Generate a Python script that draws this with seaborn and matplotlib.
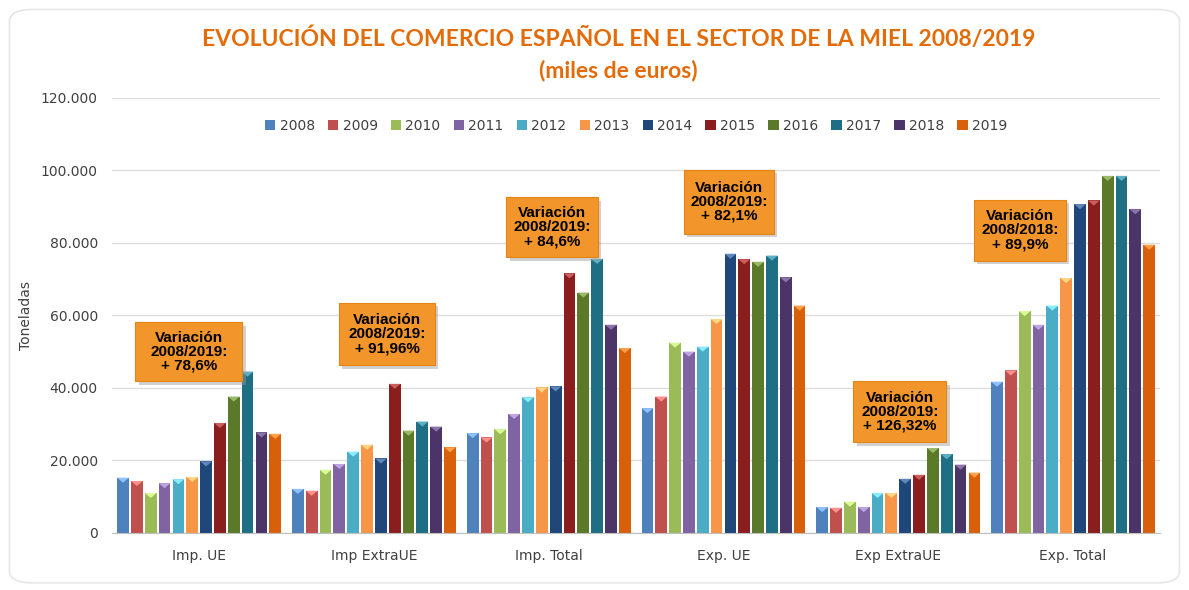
import numpy as np
import pandas as pd
import matplotlib
matplotlib.use('Agg')
import matplotlib.pyplot as plt
from matplotlib.patches import FancyBboxPatch, Polygon, Rectangle
from matplotlib.ticker import FuncFormatter
import seaborn as sns

# Data (miles de euros)
categories = ['Imp. UE', 'Imp ExtraUE', 'Imp. Total', 'Exp. UE', 'Exp ExtraUE', 'Exp. Total']
years = ['2008', '2009', '2010', '2011', '2012', '2013',
         '2014', '2015', '2016', '2017', '2018', '2019']

imp_ue = [15200, 14300, 11000, 13700, 14800, 15400, 19700, 30300, 37600, 44500, 27700, 27300]
imp_extraue = [12100, 11600, 17400, 19000, 22400, 24300, 20500, 41100, 28200, 30700, 29300, 23600]
imp_total = [27500, 26300, 28600, 32800, 37400, 40100, 40400, 71600, 66300, 75600, 57400, 51000]
exp_ue = [34400, 37600, 52500, 50000, 51400, 59000, 77000, 75500, 74800, 76500, 70500, 62700]
exp_extraue = [7100, 6900, 8600, 7100, 11000, 11000, 14900, 16000, 23400, 21700, 18800, 16600]
exp_total = [41700, 44800, 61200, 57400, 62700, 70300, 90700, 91700, 98500, 98500, 89300, 79500]

annot_texts = ['Variación\n2008/2019:\n+ 78,6%',
               'Variación\n2008/2019:\n+ 91,96%',
               'Variación\n2008/2019:\n+ 84,6%',
               'Variación\n2008/2019:\n+ 82,1%',
               'Variación\n2008/2019:\n+ 126,32%',
               'Variación\n2008/2018:\n+ 89,9%']

year_colors = ['#4F81BD', '#C0504D', '#9BBB59', '#8064A2', '#4BACC6', '#F79646',
               '#1F477A', '#8A1E1E', '#5A7A2A', '#1E6E84', '#4A3468', '#D9600A']

series = [imp_ue, imp_extraue, imp_total, exp_ue, exp_extraue, exp_total]
rows = []
for cat, vals in zip(categories, series):
    for yr, v in zip(years, vals):
        rows.append({'Categoria': cat, 'Año': yr, 'Valor': v})
df = pd.DataFrame(rows)

sns.set_style('white')
plt.rcParams['font.family'] = ['DejaVu Sans']

fig = plt.figure(figsize=(11.89, 5.90), dpi=100)
ax = fig.add_axes([0.094, 0.097, 0.882, 0.737])

sns.barplot(data=df, x='Categoria', y='Valor', hue='Año', hue_order=years,
            palette=year_colors, width=0.95, gap=0.15, ax=ax, legend=True,
            saturation=1, edgecolor='none')

# bevel-like triangle cap on top of every bar
for p in ax.patches:
    h = p.get_height()
    if h <= 0 or p.get_width() <= 0:
        continue
    x0, w = p.get_x(), p.get_width()
    fc = p.get_facecolor()
    light = tuple(min(1, c + 0.25) for c in fc[:3])
    tri = Polygon([(x0, h), (x0 + w, h), (x0 + w / 2, h - 1400)],
                  closed=True, facecolor=light, edgecolor='none', zorder=3)
    ax.add_patch(tri)

ax.set_ylim(0, 120000)
ax.set_yticks(range(0, 120001, 20000))
ax.yaxis.set_major_formatter(FuncFormatter(lambda v, _: f'{int(v):,}'.replace(',', '.')))
ax.set_xlim(-0.5, 5.5)
ax.yaxis.grid(True, color='#DDDDDD', linewidth=1)
ax.set_axisbelow(True)
for s in ['top', 'right', 'left']:
    ax.spines[s].set_visible(False)
ax.spines['bottom'].set_color('#BFBFBF')
ax.tick_params(axis='both', length=0, colors='#404040', labelsize=10)
ax.tick_params(axis='y', pad=10)
ax.tick_params(axis='x', pad=12)
ax.set_xlabel('')
ax.set_ylabel('Toneladas', fontsize=10, color='#404040', labelpad=6)

leg = ax.legend(loc='upper center', bbox_to_anchor=(0.5, 0.98), ncol=12, frameon=False,
                fontsize=10, handlelength=0.75, handleheight=0.75, handletextpad=0.3,
                columnspacing=0.95)
for t in leg.get_texts():
    t.set_color('#404040')

# annotation boxes: centre and size in axes coordinates
annot_pos = [(0.0736, 0.416), (0.2624, 0.457), (0.4198, 0.703),
             (0.5885, 0.761), (0.7516, 0.278), (0.866, 0.696)]
annot_size = [(0.102, 0.136), (0.0915, 0.143), (0.0868, 0.138),
              (0.0858, 0.147), (0.0887, 0.140), (0.0877, 0.140)]
for (xa, ya), (bw, bh), txt in zip(annot_pos, annot_size, annot_texts):
    shadow = Rectangle((xa - bw / 2 + 0.003, ya - bh / 2 - 0.008), bw, bh,
                       transform=ax.transAxes, facecolor='#9A9A9A', alpha=0.45,
                       edgecolor='none', zorder=5)
    box = Rectangle((xa - bw / 2, ya - bh / 2), bw, bh, transform=ax.transAxes,
                    facecolor='#F2962B', edgecolor='#E58414', linewidth=0.8, zorder=5)
    ax.add_patch(shadow)
    ax.add_patch(box)
    ax.text(xa, ya, txt, transform=ax.transAxes, ha='center', va='center',
            fontsize=11, fontweight='bold', color='black', family='Liberation Sans',
            linespacing=1.0, zorder=6)

fig.text(0.52, 0.935, 'EVOLUCIÓN DEL COMERCIO ESPAÑOL EN EL SECTOR DE LA MIEL 2008/2019',
         ha='center', va='center', fontsize=16.5, fontweight='bold', color='#E36C09', family='Lato')
fig.text(0.52, 0.88, '(miles de euros)', ha='center', va='center', fontsize=16.5,
         fontweight='bold', color='#E36C09', family='Lato')

# outer rounded frame
frame = FancyBboxPatch((0.008, 0.012), 0.984, 0.972, boxstyle='round,pad=0,rounding_size=0.02',
                       transform=fig.transFigure, facecolor='none', edgecolor='#E6E6E6',
                       linewidth=1.2)
fig.patches.append(frame)

fig.savefig('out.png', dpi=100)
